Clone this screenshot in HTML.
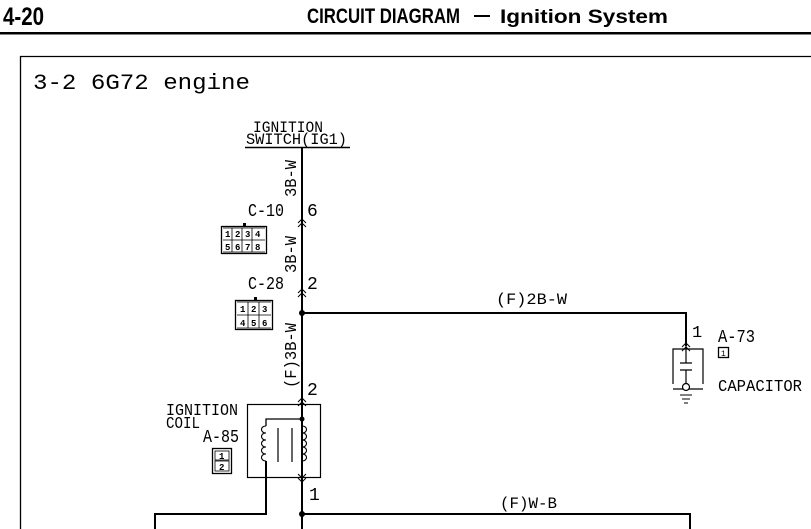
<!DOCTYPE html>
<html><head><style>
html,body{margin:0;padding:0;background:#fff;}
svg{display:block;}
.m{font-family:"Liberation Mono",monospace;fill:#000;}
</style></head><body>
<svg width="811" height="529" viewBox="0 0 811 529" xmlns="http://www.w3.org/2000/svg">
<!-- header -->
<text x="3" y="25" font-family="Liberation Sans, sans-serif" font-weight="bold" font-size="25" textLength="41" lengthAdjust="spacingAndGlyphs">4-20</text>
<text x="307" y="23" font-family="Liberation Sans, sans-serif" font-weight="bold" font-size="21" textLength="153" lengthAdjust="spacingAndGlyphs">CIRCUIT DIAGRAM</text>
<rect x="474" y="15" width="16" height="2" fill="#000"/>
<text x="500" y="23" font-family="Liberation Sans, sans-serif" font-weight="bold" font-size="19" textLength="168" lengthAdjust="spacingAndGlyphs">Ignition System</text>
<rect x="0" y="32" width="811" height="2.5" fill="#000"/>
<!-- frame -->
<path d="M20.5 529 V56.5 H811" fill="none" stroke="#000" stroke-width="1.3"/>
<text x="33" y="89" class="m" font-size="22" textLength="217" lengthAdjust="spacingAndGlyphs">3-2 6G72 engine</text>
<!-- ignition switch -->
<text x="253" y="132" class="m" font-size="16" textLength="70" lengthAdjust="spacingAndGlyphs">IGNITION</text>
<text x="246" y="144" class="m" font-size="16" textLength="101" lengthAdjust="spacingAndGlyphs">SWITCH(IG1)</text>
<line x1="245" y1="147.5" x2="350" y2="147.5" stroke="#000" stroke-width="1.5"/>
<!-- main wire -->
<line x1="302" y1="148" x2="302" y2="529" stroke="#000" stroke-width="2"/>
<!-- labels rotated -->
<text class="m" font-size="17" transform="translate(296,197) rotate(-90)" textLength="37" lengthAdjust="spacingAndGlyphs">3B-W</text>
<text class="m" font-size="17" transform="translate(296,273) rotate(-90)" textLength="37" lengthAdjust="spacingAndGlyphs">3B-W</text>
<text class="m" font-size="17" transform="translate(296,388) rotate(-90)" textLength="65" lengthAdjust="spacingAndGlyphs">(F)3B-W</text>
<!-- C-10 -->
<text x="248" y="216" class="m" font-size="18" textLength="36" lengthAdjust="spacingAndGlyphs">C-10</text>
<text x="307" y="216" class="m" font-size="18">6</text>
<path d="M298 223 L302 219 L306 223 M298 227 L302 223 L306 227" fill="none" stroke="#000" stroke-width="1"/>
<rect x="221.5" y="226.5" width="45" height="27" fill="none" stroke="#000" stroke-width="1.3"/>
<rect x="243" y="223" width="3" height="3" fill="#000"/>
<g class="m" font-size="9" font-weight="bold">
<text x="225" y="237">1</text><text x="235" y="237">2</text><text x="245" y="237">3</text><text x="255" y="237">4</text>
<text x="225" y="250">5</text><text x="235" y="250">6</text><text x="245" y="250">7</text><text x="255" y="250">8</text>
</g>
<path d="M223 240 H265 M232 228 V252 M242 228 V252 M252 228 V252 M223 228 H265 M223 252 H265" stroke="#000" stroke-width="0.8"/>
<!-- C-28 -->
<text x="248" y="289" class="m" font-size="18" textLength="36" lengthAdjust="spacingAndGlyphs">C-28</text>
<text x="307" y="289" class="m" font-size="18">2</text>
<path d="M298 293 L302 289 L306 293 M298 297 L302 293 L306 297" fill="none" stroke="#000" stroke-width="1"/>
<rect x="235.5" y="300.5" width="37" height="29" fill="none" stroke="#000" stroke-width="1.3"/>
<rect x="254" y="297" width="3" height="3" fill="#000"/>
<g class="m" font-size="9" font-weight="bold">
<text x="240" y="312">1</text><text x="251" y="312">2</text><text x="262" y="312">3</text>
<text x="240" y="326">4</text><text x="251" y="326">5</text><text x="262" y="326">6</text>
</g>
<path d="M237 315 H271 M248 302 V328 M259 302 V328 M237 302 H271 M237 328 H271" stroke="#000" stroke-width="0.8"/>
<!-- junction + 2B-W -->
<circle cx="302" cy="313" r="3" fill="#000"/>
<path d="M302 313 H686 V346" fill="none" stroke="#000" stroke-width="2"/>
<text x="496" y="304" class="m" font-size="16" textLength="71" lengthAdjust="spacingAndGlyphs">(F)2B-W</text>
<!-- capacitor -->
<text x="692" y="337" class="m" font-size="17">1</text>
<path d="M682 347 L686 343 L690 347 M682 351 L686 347 L690 351" fill="none" stroke="#000" stroke-width="1"/>
<path d="M686 346 V363 M680 363 H692 M680 370 H692 M686 370 V384" stroke="#000" stroke-width="1.2" fill="none"/>
<path d="M673 384 V349 H703 V384" fill="none" stroke="#000" stroke-width="1.2"/>
<line x1="673" y1="389" x2="703" y2="389" stroke="#000" stroke-width="1.2"/>
<circle cx="686" cy="387" r="3.5" fill="#fff" stroke="#000" stroke-width="1.2"/>
<path d="M680 395 H692 M682 399 H690 M684 403 H688" stroke="#000" stroke-width="1"/>
<text x="718" y="342" class="m" font-size="18" textLength="37" lengthAdjust="spacingAndGlyphs">A-73</text>
<rect x="718.5" y="347.5" width="10" height="10" fill="none" stroke="#000" stroke-width="1.3"/>
<text x="721" y="356" class="m" font-size="8">1</text>
<text x="718" y="391" class="m" font-size="17" textLength="84" lengthAdjust="spacingAndGlyphs">CAPACITOR</text>
<!-- ignition coil -->
<text x="166" y="415" class="m" font-size="17" textLength="72" lengthAdjust="spacingAndGlyphs">IGNITION</text>
<text x="166" y="428" class="m" font-size="17" textLength="34" lengthAdjust="spacingAndGlyphs">COIL</text>
<text x="203" y="442" class="m" font-size="18" textLength="36" lengthAdjust="spacingAndGlyphs">A-85</text>
<rect x="212.5" y="448.5" width="19" height="25" fill="none" stroke="#000" stroke-width="1.3"/>
<rect x="215" y="451" width="14" height="9" fill="none" stroke="#000" stroke-width="0.8"/>
<rect x="215" y="461" width="14" height="10" fill="none" stroke="#000" stroke-width="0.8"/>
<text x="219" y="459" class="m" font-size="9" font-weight="bold">1</text>
<text x="219" y="470" class="m" font-size="9" font-weight="bold">2</text>
<text x="307" y="395" class="m" font-size="18">2</text>
<path d="M298 402 L302 398 L306 402 M298 406 L302 402 L306 406" fill="none" stroke="#000" stroke-width="1"/>
<rect x="247.5" y="404.5" width="73" height="73" fill="none" stroke="#000" stroke-width="1.2"/>
<circle cx="302" cy="419" r="2.5" fill="#000"/>
<path d="M302 419 H266 V426" fill="none" stroke="#000" stroke-width="1.3"/>
<path d="M266 426 c-6 0 -6 7 0 7 c-6 0 -6 7 0 7 c-6 0 -6 7 0 7 c-6 0 -6 7 0 7 c-6 0 -6 7 0 7" fill="none" stroke="#000" stroke-width="1.1"/>
<path d="M302 426 c6 0 6 7 0 7 c6 0 6 7 0 7 c6 0 6 7 0 7 c6 0 6 7 0 7 c6 0 6 7 0 7" fill="none" stroke="#000" stroke-width="1.1"/>
<path d="M278 428 V462 M292 428 V462" stroke="#000" stroke-width="1.2"/>
<path d="M298 474 L302 478 L306 474 M298 478 L302 482 L306 478" fill="none" stroke="#000" stroke-width="1"/>
<text x="309" y="500" class="m" font-size="18">1</text>
<!-- bottom -->
<path d="M266 461 V514 H155 V529" fill="none" stroke="#000" stroke-width="2"/>
<circle cx="302" cy="514" r="3" fill="#000"/>
<path d="M302 514 H690 V529" fill="none" stroke="#000" stroke-width="2"/>
<text x="500" y="508" class="m" font-size="16" textLength="57" lengthAdjust="spacingAndGlyphs">(F)W-B</text>
</svg>
</body></html>
